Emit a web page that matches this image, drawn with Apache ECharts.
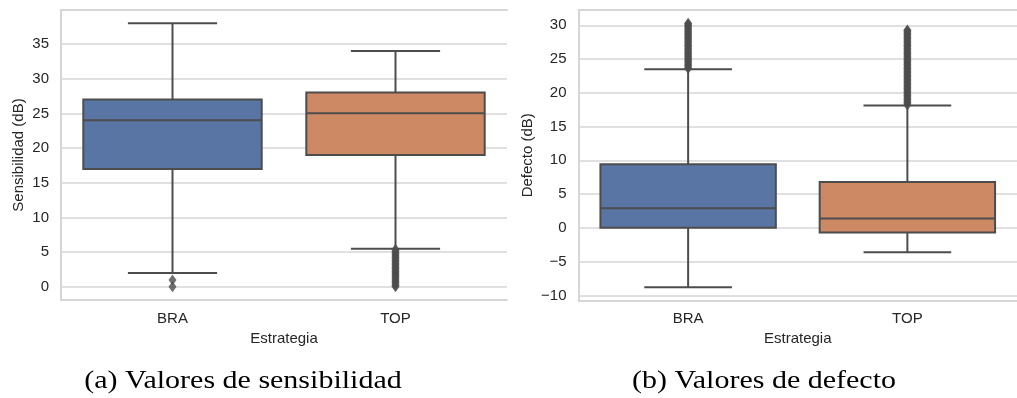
<!DOCTYPE html>
<html>
<head>
<meta charset="utf-8">
<script src="https://cdn.jsdelivr.net/npm/echarts@6/dist/echarts.min.js"></script>
<style>html,body{margin:0;padding:0;background:#fff}#c{width:1017px;height:398px}</style>
</head>
<body>
<div id="c"></div>
<script>
// ---- data ----
const categories = ['BRA', 'TOP'];
const colors = ['#5975a4', '#cc8963'];
// [low whisker, Q1, median, Q3, high whisker]
const sensBox = [
  [2, 17, 24, 27, 38],
  [5.5, 19, 25, 28, 34]
];
const sensOutBRA = [1, 0];
const sensOutTOP = [0, 0.2, 0.4, 0.6, 0.8, 1.0, 1.2, 1.4, 1.6, 1.8, 2.0, 2.2, 2.4, 2.6, 2.8, 3.0, 3.2, 3.4, 3.6, 3.8, 4.0, 4.2, 4.4, 4.6, 4.8, 5.0, 5.2, 5.4];
const defBox = [
  [-8.8, 0, 2.9, 9.4, 23.5],
  [-3.6, -0.7, 1.4, 6.8, 18.1]
];
const defOutBRA = [23.6, 23.8, 24.0, 24.2, 24.4, 24.6, 24.8, 25.0, 25.2, 25.4, 25.6, 25.8, 26.0, 26.2, 26.4, 26.6, 26.8, 27.0, 27.2, 27.4, 27.6, 27.8, 28.0, 28.2, 28.4, 28.6, 28.8, 29.0, 29.2, 29.4, 29.6, 29.8, 30.0, 30.2, 30.3];
const defOutTOP = [18.2, 18.4, 18.6, 18.8, 19.0, 19.2, 19.4, 19.6, 19.8, 20.0, 20.2, 20.4, 20.6, 20.8, 21.0, 21.2, 21.4, 21.6, 21.8, 22.0, 22.2, 22.4, 22.6, 22.8, 23.0, 23.2, 23.4, 23.6, 23.8, 24.0, 24.2, 24.4, 24.6, 24.8, 25.0, 25.2, 25.4, 25.6, 25.8, 26.0, 26.2, 26.4, 26.6, 26.8, 27.0, 27.2, 27.4, 27.6, 27.8, 28.0, 28.2, 28.4, 28.6, 28.8, 29.0, 29.2, 29.3];
const sensRange = [-1.9, 39.9];
const defRange = [-10.76, 32.26];
const captions = ['(a) Valores de sensibilidad', '(b) Valores de defecto'];
const xName = 'Estrategia';
const yNames = ['Sensibilidad (dB)', 'Defecto (dB)'];

// ---- styles ----
const LINE = '#4d4d4d';
const GRID = '#d6d6d6';
const TXT = '#262626';
const FONT = 'Liberation Sans, Arial, sans-serif';
const FS = 15;

function renderBox(params, api) {
  const x = api.value(0);
  const low = api.coord([x, api.value(1)]);
  const q1 = api.coord([x, api.value(2)]);
  const med = api.coord([x, api.value(3)]);
  const q3 = api.coord([x, api.value(4)]);
  const high = api.coord([x, api.value(5)]);
  const band = api.size([1, 0])[0];
  const bw = band * 0.8, cw = band * 0.4;
  const cx = low[0];
  const ls = { stroke: LINE, lineWidth: 2 };
  return {
    type: 'group',
    children: [
      { type: 'line', shape: { x1: cx, y1: q3[1], x2: cx, y2: high[1] }, style: ls },
      { type: 'line', shape: { x1: cx, y1: q1[1], x2: cx, y2: low[1] }, style: ls },
      { type: 'line', shape: { x1: cx - cw / 2, y1: high[1], x2: cx + cw / 2, y2: high[1] }, style: ls },
      { type: 'line', shape: { x1: cx - cw / 2, y1: low[1], x2: cx + cw / 2, y2: low[1] }, style: ls },
      { type: 'rect', shape: { x: cx - bw / 2, y: q3[1], width: bw, height: q1[1] - q3[1] },
        style: { fill: colors[params.dataIndex], stroke: LINE, lineWidth: 2 } },
      { type: 'line', shape: { x1: cx - bw / 2, y1: med[1], x2: cx + bw / 2, y2: med[1] }, style: ls }
    ]
  };
}

function boxData(arr) { return arr.map((b, i) => [i].concat(b)); }
function outData(idx, arr) { return arr.map(v => [idx, v]); }

const fmt = v => (Math.abs(v % 5) < 1e-9) ? String(Math.round(v)).replace('-', '\u2212') : '';

const grids = [
  { left: 61, top: 10, width: 446, height: 290 },
  { left: 578.5, top: 10, width: 447, height: 290.5 }
];

function xAxes(gi) {
  return [
    { type: 'category', gridIndex: gi, data: categories, position: 'bottom',
      axisLine: { show: true, onZero: false, lineStyle: { color: GRID, width: 2 } },
      axisTick: { show: false },
      axisLabel: { color: TXT, fontSize: FS, fontFamily: FONT, margin: 11 },
      name: xName, nameLocation: 'middle', nameGap: 31,
      nameTextStyle: { color: TXT, fontSize: FS, fontFamily: FONT },
      splitLine: { show: false } },
    { type: 'category', gridIndex: gi, data: categories, position: 'top',
      axisLine: { show: true, onZero: false, lineStyle: { color: GRID, width: 2 } },
      axisTick: { show: false }, axisLabel: { show: false }, splitLine: { show: false } }
  ];
}

function yAxis(gi, range, name, gap) {
  return { type: 'value', gridIndex: gi, min: range[0], max: range[1], splitNumber: 8,
    axisLine: { show: true, lineStyle: { color: GRID, width: 2 } },
    axisTick: { show: false },
    axisLabel: { color: TXT, fontSize: FS, fontFamily: FONT, margin: 12, formatter: fmt,
      showMinLabel: false, showMaxLabel: false },
    splitLine: { show: true, lineStyle: { color: GRID, width: 1.5 } },
    name: name, nameLocation: 'middle', nameRotate: 90, nameGap: gap,
    nameTextStyle: { color: TXT, fontSize: FS, fontFamily: FONT } };
}

const outStyle = { symbol: 'diamond', symbolSize: [8, 11], itemStyle: { color: LINE }, z: 5, silent: true };

const capStyle = { fill: '#000', fontSize: 25, fontFamily: 'Liberation Serif, serif', align: 'center', verticalAlign: 'middle' };

const option = {
  backgroundColor: '#fff',
  animation: false,
  grid: grids,
  xAxis: xAxes(0).concat(xAxes(1)),
  yAxis: [yAxis(0, sensRange, yNames[0], 35), yAxis(1, defRange, yNames[1], 43)],
  series: [
    { type: 'custom', xAxisIndex: 0, yAxisIndex: 0, renderItem: renderBox, data: boxData(sensBox),
      encode: { x: 0, y: [1, 2, 3, 4, 5] }, z: 3 },
    { type: 'custom', xAxisIndex: 2, yAxisIndex: 1, renderItem: renderBox, data: boxData(defBox),
      encode: { x: 0, y: [1, 2, 3, 4, 5] }, z: 3 },
    Object.assign({ type: 'scatter', xAxisIndex: 0, yAxisIndex: 0,
      data: outData(0, sensOutBRA).concat(outData(1, sensOutTOP)) }, outStyle),
    Object.assign({ type: 'scatter', xAxisIndex: 2, yAxisIndex: 1,
      data: outData(0, defOutBRA).concat(outData(1, defOutTOP)) }, outStyle)
  ],
  graphic: [
    { type: 'text', x: 243, y: 381, scaleX: 1.2, style: Object.assign({ text: captions[0] }, capStyle) },
    { type: 'text', x: 764, y: 381, scaleX: 1.2, style: Object.assign({ text: captions[1] }, capStyle) }
  ]
};

const chart = echarts.init(document.getElementById('c'), null, { renderer: 'canvas' });
chart.setOption(option);
</script>
</body>
</html>
